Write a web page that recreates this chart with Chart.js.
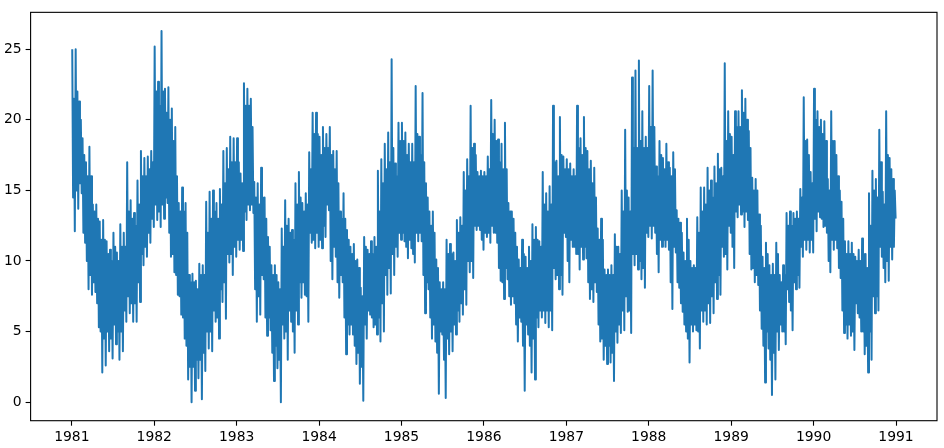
<!DOCTYPE html>
<html lang="en">

<head>
    <meta charset="UTF-8" />
    <title>Daily minimum temperatures</title>
    <script src="https://cdn.jsdelivr.net/npm/chart.js"></script>
    <style>
        body {
            margin: 0;
            background-color: #fff;
        }

        canvas {
            display: block;
        }
    </style>
</head>

<body>
    <canvas id="tempChart" width="944" height="448"></canvas>

    <script>
        // one group of four per half-month:
        // highest spike, bottom of the dense band, top of the dense band, lowest spike
        const y1981 = [
            25.0, 14.5, 21.5, 12.1, 25.0, 15.0, 22.0, 13.7, 21.3, 15.5, 20.0, 14.8, 18.7, 12.0, 17.5, 11.3,
            17.0, 10.0, 16.0, 8.0, 18.1, 9.0, 16.0, 7.6, 14.0, 8.5, 13.5, 7.8, 14.0, 7.0, 13.0, 5.3,
            12.8, 5.0, 11.5, 2.1, 12.9, 4.5, 11.5, 2.6, 11.4, 5.0, 10.5, 3.6, 10.8, 4.5, 10.0, 3.1,
            12.0, 5.5, 11.0, 4.1, 10.6, 5.0, 10.0, 3.0, 12.6, 5.0, 11.0, 3.6, 12.0, 6.5, 11.0, 5.7,
            17.0, 7.5, 13.5, 6.3, 14.3, 7.0, 13.0, 5.7, 13.4, 7.0, 12.5, 5.7, 15.7, 8.5, 14.0, 7.1,
            17.8, 10.5, 16.0, 9.7, 17.3, 11.0, 16.0, 10.3, 17.4, 12.0, 16.5, 11.3, 17.8, 13.0, 17.0, 12.4];
        const y1982 = [
            25.2, 14.0, 22.0, 12.9, 22.7, 13.5, 21.0, 12.4, 26.3, 14.0, 22.0, 13.0, 22.2, 14.5, 20.5, 14.1,
            22.3, 12.0, 20.0, 10.3, 20.8, 10.5, 18.5, 9.2, 19.5, 9.0, 16.0, 7.6, 14.1, 7.5, 13.5, 6.2,
            15.2, 6.0, 13.5, 4.5, 14.1, 4.0, 12.0, 1.6, 9.0, 2.5, 8.5, 0.0, 9.1, 2.5, 8.5, 0.8,
            8.6, 3.0, 8.0, 1.7, 9.8, 3.0, 9.0, 0.2, 9.7, 3.5, 9.0, 2.2, 14.2, 5.0, 12.0, 3.8,
            14.9, 5.0, 13.0, 3.6, 15.0, 6.5, 13.5, 5.7, 14.1, 6.0, 13.0, 4.5, 15.1, 8.0, 14.0, 7.1,
            17.8, 8.5, 15.5, 5.9, 18.0, 10.5, 16.5, 9.9, 18.8, 10.5, 17.0, 9.0, 18.7, 11.0, 17.0, 10.3];
        const y1983 = [
            18.7, 11.5, 17.0, 10.8, 16.2, 11.5, 15.5, 10.7, 22.6, 13.5, 21.0, 12.9, 22.2, 14.0, 21.0, 13.6,
            21.5, 14.0, 19.5, 13.4, 15.6, 8.0, 14.5, 5.7, 15.5, 7.5, 14.0, 6.2, 16.6, 9.0, 14.5, 8.7,
            14.5, 6.0, 13.0, 4.7, 11.7, 6.0, 11.0, 5.1, 9.7, 3.5, 9.0, 1.5, 9.7, 4.0, 9.0, 2.4,
            8.5, 3.0, 8.0, 0.0, 12.3, 5.5, 11.0, 4.5, 14.3, 5.0, 12.5, 3.0, 13.0, 6.5, 12.0, 5.7,
            12.2, 5.0, 11.5, 3.5, 15.5, 6.5, 14.0, 5.5, 16.3, 8.5, 14.5, 7.4, 14.1, 8.5, 13.5, 7.6,
            14.8, 7.5, 14.0, 5.7, 17.7, 12.0, 16.5, 11.3, 20.5, 11.5, 19.0, 10.9, 20.5, 12.0, 19.0, 11.0];
        const y1984 = [
            18.8, 11.5, 17.5, 10.9, 19.5, 12.5, 18.0, 11.7, 19.0, 14.0, 18.0, 13.6, 19.5, 10.0, 17.5, 8.7,
            17.8, 11.0, 16.5, 10.3, 17.8, 8.5, 15.5, 7.4, 13.5, 9.0, 13.0, 8.5, 14.8, 6.0, 13.0, 3.4,
            12.2, 5.5, 11.5, 4.8, 11.0, 5.5, 10.5, 4.8, 11.2, 4.0, 10.0, 2.7, 10.1, 3.5, 9.5, 1.3,
            8.1, 2.5, 7.5, 0.1, 11.7, 5.5, 11.0, 4.5, 10.8, 6.5, 10.5, 6.2, 11.4, 6.0, 10.5, 5.3,
            11.7, 5.5, 11.0, 4.8, 16.4, 6.0, 13.5, 4.3, 17.2, 7.0, 15.5, 5.0, 18.3, 9.0, 16.5, 7.6,
            19.1, 9.5, 17.0, 7.7, 24.3, 10.5, 18.0, 9.0, 16.9, 11.0, 16.0, 10.3, 19.8, 12.0, 18.5, 11.5];
        const y1985 = [
            19.8, 12.0, 18.5, 11.4, 19.1, 11.0, 17.5, 10.2, 18.3, 11.5, 17.0, 10.9, 18.3, 10.5, 17.0, 9.9,
            22.4, 12.0, 19.0, 11.4, 18.8, 12.0, 17.5, 11.4, 21.9, 9.0, 17.0, 6.3, 15.5, 8.5, 14.5, 8.0,
            13.5, 6.0, 12.5, 4.5, 13.5, 5.5, 12.0, 4.3, 10.1, 3.5, 9.5, 0.6, 8.5, 5.0, 8.0, 4.8,
            8.5, 3.0, 8.0, 0.3, 11.5, 4.5, 10.5, 3.4, 11.2, 5.0, 10.5, 3.6, 10.6, 5.5, 10.0, 4.8,
            12.9, 6.5, 12.0, 5.7, 13.1, 7.0, 12.5, 6.2, 16.3, 8.0, 15.0, 6.9, 17.2, 10.0, 16.0, 9.2,
            21.0, 10.0, 18.0, 8.8, 18.3, 12.5, 17.5, 12.2, 16.3, 12.5, 16.0, 12.2, 16.4, 11.5, 16.0, 10.8];
        const y1986 = [
            16.3, 12.0, 16.0, 11.7, 17.4, 12.0, 16.5, 11.3, 21.4, 12.5, 19.0, 12.0, 20.0, 12.0, 18.5, 11.3,
            18.6, 9.5, 17.0, 8.6, 18.3, 8.5, 16.5, 7.3, 19.8, 9.5, 16.5, 8.7, 14.1, 7.5, 13.5, 6.9,
            13.5, 7.5, 13.0, 7.0, 12.0, 5.5, 11.0, 4.3, 10.1, 6.0, 9.5, 5.7, 11.5, 4.0, 10.5, 0.8,
            10.3, 5.5, 9.5, 4.8, 11.0, 4.0, 10.0, 2.1, 12.6, 4.5, 11.5, 1.6, 12.4, 6.0, 11.5, 5.3,
            11.4, 6.5, 11.0, 6.0, 16.3, 6.5, 14.0, 5.6, 14.8, 6.5, 13.5, 5.3, 15.3, 6.5, 14.0, 5.1,
            21.0, 9.5, 17.0, 8.7, 17.1, 9.0, 16.0, 8.0, 20.2, 9.0, 17.5, 7.6, 17.4, 12.0, 16.5, 11.7];
        const y1987 = [
            17.2, 10.0, 16.5, 8.5, 16.9, 11.5, 16.0, 11.0, 16.5, 11.0, 16.0, 10.5, 21.0, 10.5, 18.0, 9.4,
            18.7, 11.0, 17.5, 10.1, 20.2, 11.0, 18.0, 10.2, 17.8, 8.5, 16.5, 7.3, 17.1, 8.0, 15.5, 7.1,
            16.6, 8.5, 14.5, 7.8, 12.3, 5.5, 11.5, 4.3, 13.0, 4.5, 11.5, 3.0, 9.4, 4.0, 9.0, 2.7,
            9.4, 4.0, 9.0, 2.8, 9.7, 3.5, 9.0, 1.5, 11.9, 5.0, 11.0, 4.2, 11.0, 5.5, 10.5, 4.9,
            15.0, 6.5, 13.5, 5.1, 19.3, 7.5, 15.0, 6.4, 14.5, 6.5, 13.5, 4.9, 23.0, 10.5, 18.0, 9.7,
            23.5, 10.5, 18.0, 9.4, 24.2, 10.0, 18.5, 8.7, 20.6, 9.5, 18.0, 8.1, 18.8, 12.0, 18.0, 11.7];
        const y1988 = [
            22.4, 12.5, 19.5, 11.6, 23.5, 12.5, 19.5, 12.0, 16.7, 10.5, 16.0, 9.2, 18.5, 11.5, 17.5, 11.0,
            17.3, 11.5, 16.5, 11.0, 18.3, 11.5, 17.0, 10.8, 16.6, 8.5, 16.0, 6.6, 17.7, 11.0, 16.5, 10.6,
            13.6, 8.5, 13.0, 8.1, 12.7, 7.0, 12.0, 6.4, 10.6, 5.5, 10.0, 5.0, 13.0, 4.5, 11.5, 2.8,
            10.0, 5.5, 9.5, 5.0, 9.7, 5.5, 9.5, 5.1, 13.1, 5.0, 12.0, 3.8, 15.2, 6.5, 13.5, 5.7,
            15.2, 6.5, 14.0, 5.5, 16.6, 7.0, 15.0, 5.6, 15.7, 7.5, 14.5, 6.3, 16.7, 8.5, 15.5, 7.3,
            17.6, 9.0, 16.5, 7.6, 16.6, 11.0, 16.0, 10.3, 24.0, 10.5, 18.5, 9.4, 20.6, 12.5, 19.0, 12.0];
        const y1989 = [
            18.8, 11.0, 17.5, 9.5, 20.6, 13.5, 19.5, 13.1, 20.6, 14.0, 19.5, 13.3, 22.1, 13.5, 20.5, 12.4,
            21.5, 13.5, 20.0, 12.9, 19.2, 10.5, 18.0, 9.4, 15.9, 9.5, 15.0, 8.5, 15.8, 9.0, 15.0, 8.3,
            13.3, 6.5, 12.5, 5.2, 10.3, 4.0, 9.5, 1.4, 11.3, 5.0, 10.5, 3.8, 9.7, 3.0, 9.0, 0.5,
            9.8, 3.5, 9.0, 1.6, 11.3, 5.0, 10.5, 3.7, 9.0, 5.5, 8.5, 5.0, 9.7, 5.0, 9.0, 4.1,
            13.4, 8.0, 12.5, 7.1, 13.5, 6.5, 12.5, 5.1, 13.4, 8.5, 13.0, 8.0, 13.5, 9.0, 13.0, 8.1,
            15.1, 11.0, 14.5, 10.3, 21.6, 11.5, 18.5, 10.8, 18.6, 11.5, 17.5, 10.6, 16.3, 11.5, 15.5, 10.6];
        const y1990 = [
            22.2, 13.0, 20.0, 12.1, 20.6, 13.5, 19.5, 13.1, 20.0, 13.0, 19.0, 12.4, 19.9, 12.5, 18.5, 12.0,
            15.8, 10.0, 15.0, 9.2, 20.6, 11.5, 18.5, 10.8, 18.5, 11.5, 17.5, 10.9, 16.0, 9.5, 15.0, 8.8,
            14.2, 6.5, 13.0, 4.9, 11.4, 5.5, 10.5, 4.5, 11.4, 5.5, 10.5, 4.7, 11.3, 5.0, 10.5, 3.7,
            10.3, 7.0, 10.0, 6.3, 10.8, 6.0, 10.0, 5.0, 11.6, 5.0, 10.5, 3.4, 10.5, 4.0, 9.5, 2.1,
            14.8, 5.0, 12.5, 3.0, 16.4, 7.5, 15.0, 6.3, 15.8, 7.5, 14.5, 6.5, 19.3, 11.0, 17.0, 10.3,
            14.9, 9.5, 14.0, 8.5, 20.6, 10.0, 17.5, 8.6, 17.3, 11.0, 16.5, 10.1, 15.8, 11.0, 15.0, 13.0];

        const years = [1981, 1982, 1983, 1984, 1985, 1986, 1987, 1988, 1989, 1990];
        const traces = [y1981, y1982, y1983, y1984, y1985, y1986, y1987, y1988, y1989, y1990];
        const xTicks = [1981, 1982, 1983, 1984, 1985, 1986, 1987, 1988, 1989, 1990, 1991];
        const yTicks = [0, 5, 10, 15, 20, 25];

        const points = [];
        years.forEach((yr, k) => {
            const vals = traces[k];
            vals.forEach((v, j) => points.push({ x: yr + (j + 0.5) / vals.length, y: v }));
        });

        // axes box on all four sides, like the matplotlib spines
        const frame = {
            id: 'frame',
            afterDraw(chart) {
                const { ctx, chartArea: a } = chart;
                ctx.save();
                ctx.strokeStyle = '#000';
                ctx.lineWidth = 1.1;
                ctx.strokeRect(a.left, a.top, a.right - a.left, a.bottom - a.top);
                ctx.restore();
            }
        };

        const tickFont = { family: 'DejaVu Sans', size: 13.9 };

        new Chart(document.getElementById('tempChart'), {
            type: 'line',
            data: {
                datasets: [{
                    data: points,
                    borderColor: '#1f77b4',
                    borderWidth: 2,
                    borderJoinStyle: 'round',
                    pointRadius: 0,
                    tension: 0,
                    fill: false
                }]
            },
            options: {
                responsive: false,
                animation: false,
                devicePixelRatio: 1,
                layout: { padding: { left: 0, right: 7, top: 5, bottom: 0 } },
                plugins: {
                    legend: { display: false },
                    tooltip: { enabled: false }
                },
                scales: {
                    x: {
                        type: 'linear',
                        min: 1980.5,
                        max: 1991.497,
                        afterBuildTicks: axis => { axis.ticks = xTicks.map(v => ({ value: v })); },
                        afterFit: axis => { axis.height = 27.3; },
                        border: { display: false },
                        grid: { drawOnChartArea: false, drawTicks: true, tickLength: 5, tickWidth: 1.1, tickColor: '#000' },
                        ticks: { color: '#000', font: tickFont, padding: 3, maxRotation: 0, callback: v => String(v) }
                    },
                    y: {
                        min: -1.315,
                        max: 27.615,
                        afterBuildTicks: axis => { axis.ticks = yTicks.map(v => ({ value: v })); },
                        afterFit: axis => { axis.width = 30.6; },
                        border: { display: false },
                        grid: { drawOnChartArea: false, drawTicks: true, tickLength: 5, tickWidth: 1.1, tickColor: '#000' },
                        ticks: { color: '#000', font: tickFont, padding: 4, callback: v => String(v) }
                    }
                }
            },
            plugins: [frame]
        });
    </script>
</body>

</html>
